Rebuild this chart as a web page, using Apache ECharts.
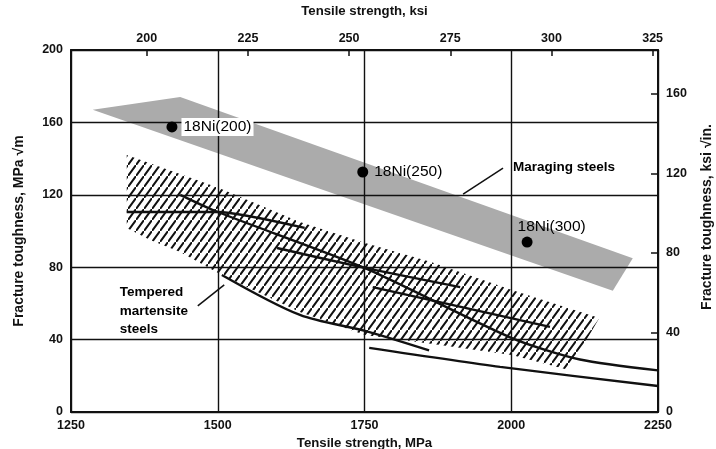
<!DOCTYPE html>
<html><head><meta charset="utf-8">
<script src="https://cdn.jsdelivr.net/npm/echarts@6/dist/echarts.min.js"></script>
<style>html,body{margin:0;padding:0;background:#fff}#c{width:716px;height:449px}</style>
</head><body><div id="c"></div>
<script>
// ---- axis ticks ----
const mpaTicks = [1250, 1500, 1750, 2000, 2250];
const ksiTicks = [200, 225, 250, 275, 300, 325];
const toughTicks = [0, 40, 80, 120, 160, 200];
const ksiInTicks = [0, 40, 80, 120, 160];
const MPA_PER_KSI = 6.895;
const KSIIN_PER_MPAM = 0.9100;

// ---- regions (tensile strength MPa, fracture toughness MPa·m^1/2) ----
const maragingBand = [[1287, 167], [1436, 174], [2207, 85], [2173, 67]];
const martensiteBand = [[1345, 142], [1500, 124], [1640, 105], [1751, 93.4], [1862, 83], [2001, 67.4], [2150, 52],
  [2098, 23.2], [2001, 31.5], [1879, 37], [1751, 42.5], [1640, 55.3], [1507, 75.7], [1436, 88.4], [1385, 95], [1345, 101.7]];

// ---- maraging grades ----
const grades = ['18Ni(200)', '18Ni(250)', '18Ni(300)'];
const gradeStrength = [1422, 1747, 2027];
const gradeToughness = [157.5, 132.6, 93.9];

// ---- tempered martensite curves ----
const curve1 = [[1345, 110.5], [1500, 110.5], [1648, 101.7]];
const curve2 = [[1436, 120], [1500, 110.5], [1750, 79.6], [2000, 41], [2117, 29], [2250, 23]];
const curve3 = [[1601, 90.6], [1750, 79.6], [1913, 69]];
const curve4 = [[1764, 69], [2066, 47]];
const curve5 = [[1507, 75.7], [1640, 53.6], [1751, 44.8], [1860, 34]];
const curve6 = [[1758, 35.4], [1981, 24.9], [2250, 14.4]];

// ---- annotations ----
const maragingNote = {text: 'Maraging steels', at: [2003, 135.4], leader: [[1918, 120.4], [1986, 134.8]]};
const martensiteNote = {text: 'Tempered\nmartensite\nsteels', at: [1333, 55.8], leader: [[1466, 58.6], [1511, 70.2]]};

// hatch pattern
const pc = document.createElement('canvas'); pc.width = 8; pc.height = 11;
const g = pc.getContext('2d'); g.strokeStyle = '#111'; g.lineWidth = 2; g.lineCap = 'square';
g.beginPath(); g.moveTo(0, 11); g.lineTo(8, 0); g.stroke();

const FONT = 'Liberation Sans, Arial, sans-serif';
const INK = '#111';

function polygon(points, fill, z) {
  return {type: 'custom', coordinateSystem: 'cartesian2d', xAxisIndex: 0, yAxisIndex: 0, silent: true, z: z,
    data: [[1750, 100]],
    renderItem: (params, api) => ({type: 'polygon', shape: {points: points.map(p => api.coord(p))}, style: {fill: fill}})};
}
function curve(pts, smooth) {
  return {type: 'line', data: pts, smooth: smooth, symbol: 'none', silent: true, z: 10,
    lineStyle: {color: INK, width: 2.4}};
}
function note(n, extra) {
  return [{type: 'scatter', data: [n.at], symbolSize: 0, silent: true, z: 11, itemStyle: {opacity: 1},
      label: Object.assign({show: true, position: 'right', distance: 0, formatter: n.text, color: '#000',
        fontFamily: FONT, fontWeight: 'bold', fontSize: 13.5}, extra)},
    {type: 'line', data: n.leader, symbol: 'none', silent: true, z: 11, lineStyle: {color: INK, width: 1.5}}];
}

const axisLbl = {color: INK, fontFamily: FONT, fontWeight: 'bold', fontSize: 12.5, formatter: v => String(Math.round(v))};
const nameStyle = {color: INK, fontFamily: FONT, fontWeight: 'bold', fontSize: 13.2};
const frame = {show: true, onZero: false, lineStyle: {color: INK, width: 2}};
const grid = {show: true, lineStyle: {color: INK, width: 1.4}};

const chart = echarts.init(document.getElementById('c'), null, {renderer: 'canvas'});
chart.setOption({
  animation: false,
  backgroundColor: '#fff',
  grid: {left: 71, right: 58, top: 50, bottom: 37, outerBoundsMode: 'none', containLabel: false},
  xAxis: [
    {type: 'value', position: 'bottom', min: 1250, max: 2250, interval: 250, z: 5,
      name: 'Tensile strength, MPa', nameLocation: 'middle', nameGap: 24, nameTextStyle: nameStyle,
      axisLine: frame, axisTick: {show: false}, splitLine: grid,
      axisLabel: Object.assign({margin: 7}, axisLbl)},
    {type: 'value', position: 'top', min: 1250 / MPA_PER_KSI, max: 2250 / MPA_PER_KSI, z: 5,
      name: 'Tensile strength, ksi', nameLocation: 'middle', nameGap: 32, nameTextStyle: nameStyle,
      axisLine: frame, splitLine: {show: false},
      axisTick: {show: true, inside: true, length: 6, customValues: ksiTicks, lineStyle: {color: INK, width: 1.5}},
      axisLabel: Object.assign({margin: 5, customValues: ksiTicks}, axisLbl)}
  ],
  yAxis: [
    {type: 'value', position: 'left', min: 0, max: 200, interval: 40, z: 5,
      name: 'Fracture toughness, MPa √m', nameLocation: 'middle', nameGap: 45, nameRotate: 90,
      nameTextStyle: Object.assign({}, nameStyle, {fontSize: 14}),
      axisLine: frame, axisTick: {show: false}, splitLine: grid,
      axisLabel: Object.assign({margin: 8}, axisLbl)},
    {type: 'value', position: 'right', min: 0, max: 200 * KSIIN_PER_MPAM, z: 5,
      name: 'Fracture toughness, ksi √in.', nameLocation: 'middle', nameGap: 42, nameRotate: 90,
      nameTextStyle: Object.assign({}, nameStyle, {fontSize: 14, padding: [0, 0, 0, 28]}),
      axisLine: frame, splitLine: {show: false},
      axisTick: {show: true, inside: true, length: 7, customValues: ksiInTicks, lineStyle: {color: INK, width: 1.5}},
      axisLabel: Object.assign({margin: 8, customValues: ksiInTicks}, axisLbl)}
  ],
  series: [
    polygon(maragingBand, '#ababab', 1),
    polygon(martensiteBand, {image: pc, repeat: 'repeat'}, 1),
    curve(curve1, 0.2), curve(curve2, 0.25), curve(curve3, 0.2), curve(curve4, 0),
    curve(curve5, 0.3), curve(curve6, 0.25),
    {type: 'scatter', z: 12, silent: true, symbolSize: 11, itemStyle: {color: '#000', opacity: 1},
      data: grades.map((n, i) => ({value: [gradeStrength[i], gradeToughness[i]], name: n,
        label: i === 2 ? {position: 'right', offset: [-21, -15]}
          : (i === 0 ? {position: 'right', backgroundColor: '#fff'} : {position: 'right'})})),
      label: {show: true, formatter: '{b}', color: '#000', fontFamily: FONT, fontSize: 15.5, distance: 4,
        padding: [1, 2]}},
    ...note(maragingNote, {}),
    ...note(martensiteNote, {align: 'left', lineHeight: 18.5})
  ]
});
</script></body></html>
